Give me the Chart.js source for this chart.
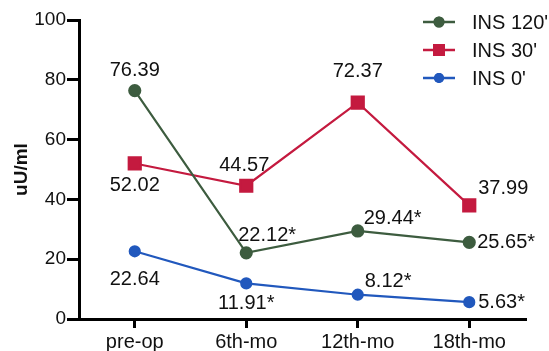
<!DOCTYPE html>
<html>
<head>
<meta charset="utf-8">
<script src="https://cdn.jsdelivr.net/npm/chart.js@4/dist/chart.umd.min.js"></script>
<style>
  body { margin: 0; background: #fff; }
  #chart { display: block; }
</style>
</head>
<body>
<canvas id="chart" width="549" height="351"></canvas>
<script>
const categories = ['pre-op', '6th-mo', '12th-mo', '18th-mo']
const ins120 = [76.39, 22.12, 29.44, 25.65]
const ins30 = [52.02, 44.57, 72.37, 37.99]
const ins0 = [22.64, 11.91, 8.12, 5.63]
// significance marks shown as "*" after the value
const ins120Sig = [false, true, true, true]
const ins30Sig = [false, false, false, false]
const ins0Sig = [false, true, true, true]
const yTicks = [0, 20, 40, 60, 80, 100]

const FONT = "'Liberation Sans', Arial, sans-serif"

// where each value label sits relative to its point: [dx, dy, align]
const labelPlace = [
  [[0, -20, 'center'], [-8, -17, 'left'], [6, -12, 'left'], [8, 0, 'left']],
  [[0, 22, 'center'], [-2, -20, 'center'], [0, -31, 'center'], [9, -17, 'left']],
  [[0, 28, 'center'], [0, 20, 'center'], [7, -13, 'left'], [9, 0, 'left']],
]

const valueLabels = {
  id: 'valueLabels',
  afterDatasetsDraw(chart) {
    const ctx = chart.ctx
    ctx.save()
    ctx.font = '20px ' + FONT
    ctx.fillStyle = '#111'
    ctx.textBaseline = 'middle'
    chart.data.datasets.forEach((ds, i) => {
      chart.getDatasetMeta(i).data.forEach((pt, j) => {
        const [dx, dy, align] = labelPlace[i][j]
        ctx.textAlign = align
        const txt = ds.data[j].toFixed(2) + (ds.sig[j] ? '*' : '')
        ctx.fillText(txt, pt.x + dx, pt.y + dy)
      })
    })
    ctx.restore()
  },
}

const sideLegend = {
  id: 'sideLegend',
  afterDraw(chart) {
    const ctx = chart.ctx
    const x0 = chart.chartArea.right - 102
    ctx.save()
    chart.data.datasets.forEach((ds, i) => {
      const y = 22 + i * 28
      ctx.strokeStyle = ds.borderColor
      ctx.lineWidth = 2.5
      ctx.beginPath()
      ctx.moveTo(x0, y)
      ctx.lineTo(x0 + 32, y)
      ctx.stroke()
      ctx.fillStyle = ds.borderColor
      Chart.helpers.drawPoint(ctx, {
        pointStyle: ds.pointStyle,
        radius: ds.pointRadius,
        borderWidth: 0,
      }, x0 + 16, y)
      ctx.fill()
      ctx.fillStyle = '#111'
      ctx.font = '20px ' + FONT
      ctx.textAlign = 'left'
      ctx.textBaseline = 'middle'
      ctx.fillText(ds.label, x0 + 49, y + 1)
    })
    ctx.restore()
  },
}

const green = '#3d5c3f'
const red = '#c41a3f'
const blue = '#2158bd'

new Chart(document.getElementById('chart'), {
  type: 'line',
  data: {
    labels: categories,
    datasets: [
      {
        label: "INS 120'",
        data: ins120,
        sig: ins120Sig,
        borderColor: green,
        backgroundColor: green,
        pointStyle: 'circle',
        pointRadius: 5.5,
        borderWidth: 2.2,
      },
      {
        label: "INS 30'",
        data: ins30,
        sig: ins30Sig,
        borderColor: red,
        backgroundColor: red,
        pointStyle: 'rect',
        pointRadius: 8.5,
        borderWidth: 2.2,
      },
      {
        label: "INS 0'",
        data: ins0,
        sig: ins0Sig,
        borderColor: blue,
        backgroundColor: blue,
        pointStyle: 'circle',
        pointRadius: 5,
        borderWidth: 2.2,
      },
    ],
  },
  options: {
    responsive: false,
    animation: false,
    layout: { padding: { top: 20, right: 24, left: 0, bottom: 0 } },
    plugins: {
      legend: { display: false },
      tooltip: { enabled: false },
    },
    scales: {
      x: {
        offset: true,
        border: { display: true, width: 3, color: '#000' },
        grid: {
          drawOnChartArea: false,
          drawTicks: true,
          tickLength: 9,
          lineWidth: 3,
          color: '#000',
          offset: false,
        },
        ticks: {
          color: '#111',
          padding: 2,
          maxRotation: 0,
          font: { family: FONT, size: 20 },
        },
        afterFit(scale) { scale.height = 32 },
      },
      y: {
        min: 0,
        max: 100,
        afterBuildTicks(scale) { scale.ticks = yTicks.map(v => ({ value: v })) },
        border: { display: true, width: 3, color: '#000' },
        grid: {
          drawOnChartArea: false,
          drawTicks: true,
          tickLength: 12,
          lineWidth: 3,
          color: '#000',
        },
        ticks: {
          color: '#111',
          padding: 1,
          font: { family: FONT, size: 19 },
        },
        title: {
          display: true,
          text: 'uU/ml',
          color: '#111',
          padding: { top: 10, bottom: 0 },
          font: { family: FONT, size: 19, weight: 'bold' },
        },
        afterFit(scale) { scale.width = 79 },
      },
    },
  },
  plugins: [valueLabels, sideLegend],
})
</script>
</body>
</html>
